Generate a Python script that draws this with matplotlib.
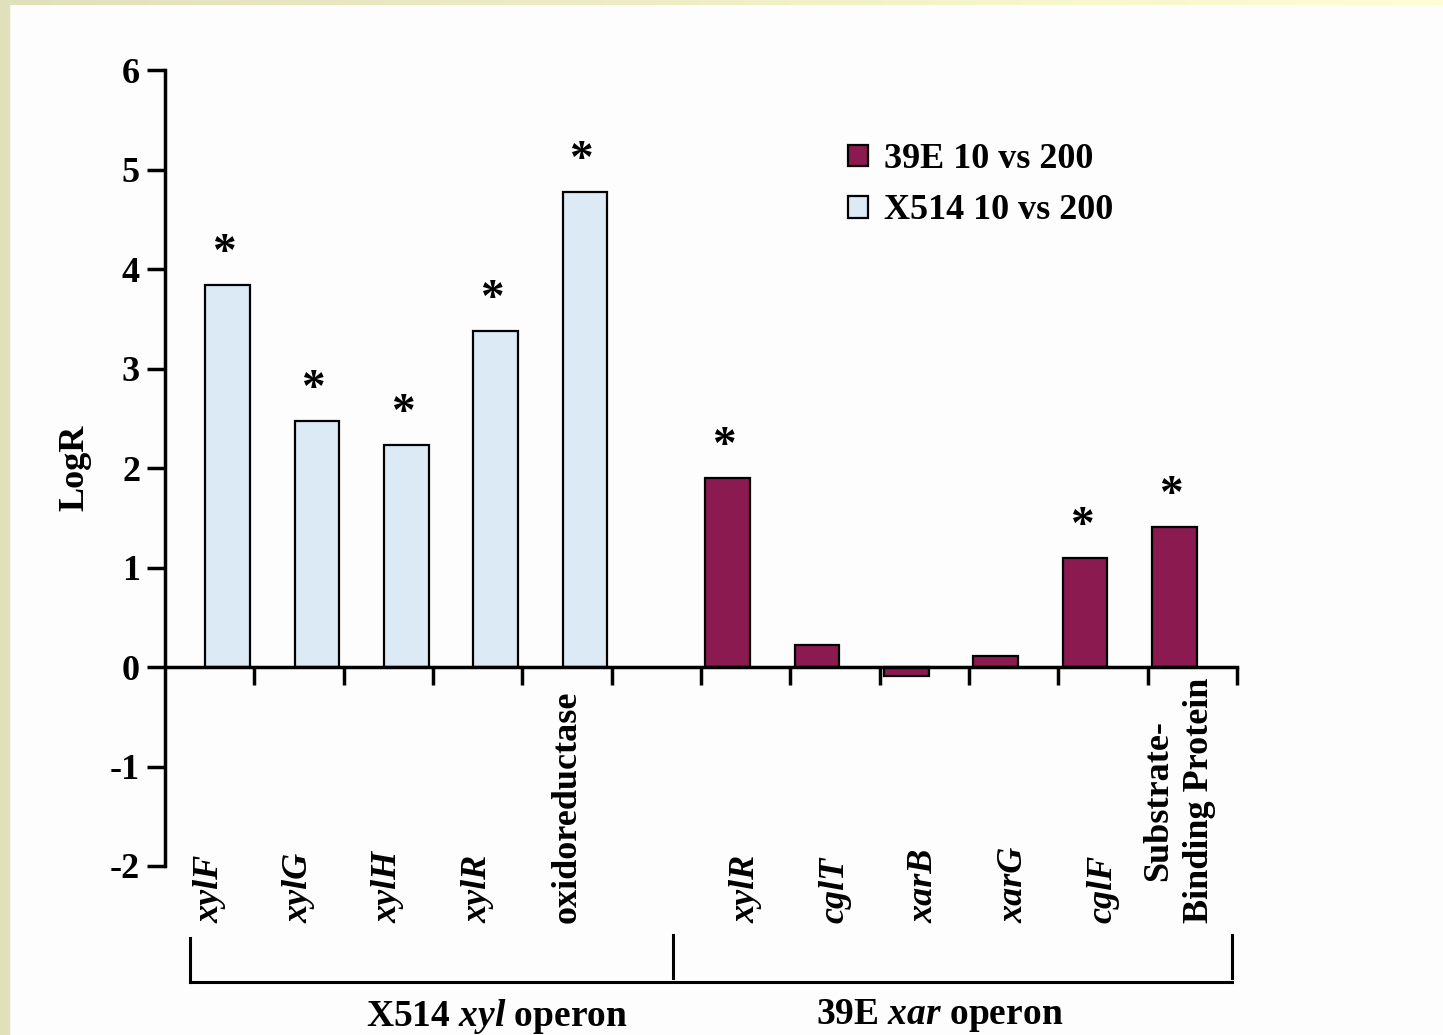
import matplotlib
matplotlib.use("Agg")
import matplotlib.pyplot as plt
import numpy as np

# categories (one empty slot separates the two operons)
genes = ["xylF", "xylG", "xylH", "xylR", "oxidoreductase", "",
         "xylR", "cglT", "xarB", "xarG", "cglF", "Substrate-\nBinding Protein"]
italic = [True, True, True, True, False, False, True, True, True, True, True, False]

# LogR values (nan = no bar)
x514 = [3.84, 2.47, 2.23, 3.38, 4.77, np.nan,
        np.nan, np.nan, np.nan, np.nan, np.nan, np.nan]
e39 = [np.nan, np.nan, np.nan, np.nan, np.nan, np.nan,
       1.90, 0.22, -0.09, 0.11, 1.10, 1.41]
signif = [True, True, True, True, True, False, True, False, False, False, True, True]

groups = ["X514 $\\mathit{xyl}$ operon", "39E $\\mathit{xar}$ operon"]

plt.rcParams['font.family'] = ['Liberation Serif', 'DejaVu Serif']
plt.rcParams['mathtext.fontset'] = 'custom'
plt.rcParams['mathtext.it'] = 'Liberation Serif:italic:bold'
plt.rcParams['mathtext.rm'] = 'Liberation Serif:bold'

fig = plt.figure(figsize=(14.43, 10.35), dpi=100, facecolor='#fdfdfd')
ax = fig.add_axes([165/1443, 1 - 866/1035, (1237 - 165)/1443, (866 - 70)/1035])
ax.set_facecolor('none')

x = np.arange(len(genes))
red = '#8b1a50'
blue = '#dceaf6'
w = 0.5
ax.bar(x - 0.2, e39, w, color=red, edgecolor='black', linewidth=1.6, label='39E 10 vs 200', zorder=2)
ax.bar(x + 0.2, x514, w, color=blue, edgecolor='black', linewidth=1.6, label='X514 10 vs 200', zorder=2)

# asterisks
for i in range(len(genes)):
    if signif[i]:
        v = x514[i] if not np.isnan(x514[i]) else e39[i]
        off = 0.2 if not np.isnan(x514[i]) else -0.2
        ax.text(x[i] + off - 0.04, v + 0.1, '*', ha='center', va='bottom',
                fontsize=34, fontweight='bold')

ax.set_xlim(-0.5, 11.5)
ax.set_ylim(-2, 6)
ax.set_yticks(range(-2, 7))
ax.set_yticklabels([str(v) for v in range(-2, 7)], fontsize=26, fontweight='bold')
ax.tick_params(axis='y', length=13, width=2.5, pad=5)
ax.set_xticks(np.arange(0.5, 12, 1.0))
ax.set_xticklabels([])
ax.tick_params(axis='x', length=13, width=2.5, direction='out')

ax.spines['top'].set_visible(False)
ax.spines['right'].set_visible(False)
ax.spines['bottom'].set_position(('data', 0))
ax.spines['bottom'].set_linewidth(2.5)
ax.spines['left'].set_linewidth(2.5)
ax.spines['bottom'].set_zorder(3)

ax.text(-0.084, 0.5, 'LogR', transform=ax.transAxes, rotation=90, ha='center', va='center',
        fontsize=26, fontweight='bold')

# rotated category labels
for i, g in enumerate(genes):
    if not g:
        continue
    xi = x[i] - 0.15 if '\n' in g else x[i]
    ax.text(xi, -2.57, g, rotation=90, ha='center', va='bottom',
            fontsize=26, fontweight='bold', style='italic' if italic[i] else 'normal',
            linespacing=1.3, clip_on=False)

# operon brackets in figure pixels
def fx(px):
    return px / 1443
def fy(py):
    return 1 - py / 1035

lk = dict(color='black', lw=2.2, transform=fig.transFigure)
fig.add_artist(plt.Line2D([fx(190), fx(1232)], [fy(982), fy(982)], **lk))
fig.add_artist(plt.Line2D([fx(190), fx(190)], [fy(938), fy(982)], **lk))
fig.add_artist(plt.Line2D([fx(673), fx(673)], [fy(935), fy(978)], **lk))
fig.add_artist(plt.Line2D([fx(1232), fx(1232)], [fy(935), fy(978)], **lk))
fig.text(fx(497), fy(1016), groups[0], ha='center', va='center', fontsize=27, fontweight='bold')
fig.text(fx(940), fy(1016), groups[1], ha='center', va='center', fontsize=27, fontweight='bold')

leg = ax.legend(loc='upper left', bbox_to_anchor=(0.624, 0.926), frameon=False,
                prop={'size': 26, 'weight': 'bold'}, handlelength=0.55, handleheight=0.55,
                handletextpad=0.45, labelspacing=0.5, borderaxespad=0)

# page border
fig.add_artist(plt.Rectangle((0, 0), fx(9), 1, color='#e0e0bb', transform=fig.transFigure, zorder=0))
grad = fig.add_axes([0, fy(5), 1, 5/1035])
grad.imshow(np.linspace(0, 1, 256)[None, :], aspect='auto',
            cmap=matplotlib.colors.LinearSegmentedColormap.from_list('b', ['#e0e0bb', '#fffed2']))
grad.axis('off')

fig.savefig('out.png', dpi=100, facecolor=fig.get_facecolor())
